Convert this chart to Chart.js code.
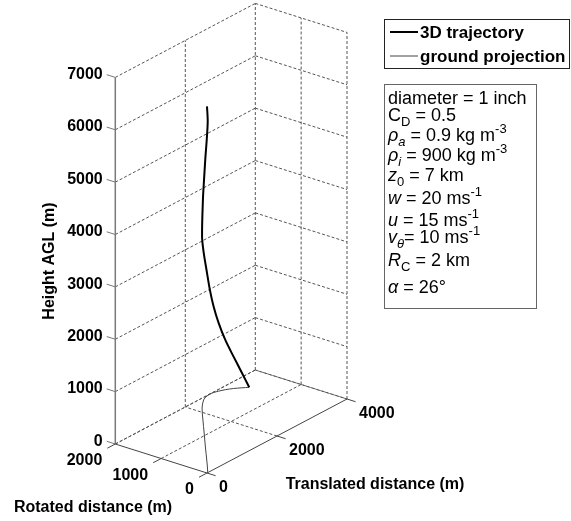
<!DOCTYPE html>
<html><head><meta charset="utf-8">
<script src="https://cdn.jsdelivr.net/npm/chart.js@4/dist/chart.umd.min.js"></script>
<style>html,body{margin:0;padding:0;background:#fff}#wrap{width:571px;height:521px;position:relative}</style>
</head><body><div id="wrap"><canvas id="c"></canvas></div>
<script>
// ---- data (metres) ----
const translated = [0, 40, 437, 862, 1322, 1749, 2145, 2432, 2604, 2700, 2793, 2891, 3013, 3142, 3255, 3350];
const rotated    = [0, 15, 339, 693, 1071, 1424, 1745, 1931, 1988, 1998, 1988, 1954, 1901, 1819, 1722, 1636];
const heightAGL  = [7000, 6700, 6119, 5526, 4876, 4207, 3270, 2830, 2352, 1989, 1641, 1304, 950, 608, 283, 0];
const zTicks = [0, 1000, 2000, 3000, 4000, 5000, 6000, 7000];
const tTicks = [0, 2000, 4000];
const rTicks = [0, 1000, 2000];
const seriesNames = ['3D trajectory', 'ground projection'];
const paramLines = [
  [{t:'diameter = 1 inch'}],
  [{t:'C'},{t:'D',sub:1},{t:' = 0.5'}],
  [{t:'\u03C1',it:1},{t:'a',sub:1,it:1},{t:' = 0.9 kg m'},{t:'-3',sup:1}],
  [{t:'\u03C1',it:1},{t:'i',sub:1,it:1},{t:' = 900 kg m'},{t:'-3',sup:1}],
  [{t:'z',it:1},{t:'0',sub:1},{t:' = 7 km'}],
  [{t:'w',it:1},{t:' = 20 ms'},{t:'-1',sup:1}],
  [{t:'u',it:1},{t:' = 15 ms'},{t:'-1',sup:1}],
  [{t:'v',it:1},{t:'\u03B8',sub:1,it:1},{t:'= 10 ms'},{t:'-1',sup:1}],
  [{t:'R',it:1},{t:'C',sub:1},{t:' = 2 km'}],
  [{t:'\u03B1',it:1},{t:' = 26\u00B0'}]
];

// ---- projection (layout): axis ranges and screen direction of each axis ----
const T_MAX = 4000, R_MAX = 2000, Z_MAX = 7000;
const view = {ox:207, oy:473, tx:0.035, ty:-0.0185, rx:-0.04585, ry:-0.0145, zy:-0.05237};
function proj(t, r, z){
  return {x: view.ox + t*view.tx + r*view.rx, y: view.oy + t*view.ty + r*view.ry + z*view.zy};
}

const FONT = '"Liberation Sans", Arial, sans-serif';

const trajData = translated.map((t,i)=>proj(t, rotated[i], heightAGL[i]));
const groundData = translated.map((t,i)=>proj(t, rotated[i], 0));

const axesPlugin = {
  id:'axes3d',
  beforeDatasetsDraw(chart){
    const ctx = chart.ctx, sx = chart.scales.x, sy = chart.scales.y;
    const P = (t,r,z)=>{const p=proj(t,r,z); return {x:sx.getPixelForValue(p.x), y:sy.getPixelForValue(p.y)};};
    const line=(a,b)=>{ctx.beginPath();ctx.moveTo(a.x,a.y);ctx.lineTo(b.x,b.y);ctx.stroke();};
    ctx.save();
    // dashed grid
    ctx.strokeStyle='#555'; ctx.lineWidth=1; ctx.setLineDash([3,2]);
    zTicks.forEach(z=>{
      line(P(0,R_MAX,z), P(T_MAX,R_MAX,z));
      line(P(T_MAX,R_MAX,z), P(T_MAX,0,z));
    });
    tTicks.forEach(t=>{
      if(t>0) line(P(t,R_MAX,0), P(t,R_MAX,Z_MAX));
      if(t>0) line(P(t,0,0), P(t,R_MAX,0));
    });
    rTicks.forEach(r=>{
      if(r<R_MAX) line(P(T_MAX,r,0), P(T_MAX,r,Z_MAX));
      if(r>0) line(P(0,r,0), P(T_MAX,r,0));
    });
    ctx.setLineDash([]);
    // solid axes
    ctx.strokeStyle='#7a7a7a'; ctx.lineWidth=1.5;
    line(P(0,R_MAX,0), P(0,R_MAX,Z_MAX));
    ctx.strokeStyle='#444'; ctx.lineWidth=1;
    line(P(0,0,0), P(T_MAX,0,0));
    line(P(0,0,0), P(0,R_MAX,0));
    // ticks + labels
    ctx.fillStyle='#000';
    ctx.font='bold 16px '+FONT;
    const TL=9;
    const rl=Math.hypot(view.rx,view.ry), rdx=view.rx/rl, rdy=view.ry/rl;
    ctx.strokeStyle='#777'; ctx.lineWidth=1;
    ctx.textAlign='right'; ctx.textBaseline='middle';
    zTicks.forEach(z=>{
      const a=P(0,R_MAX,z); const b={x:a.x+rdx*TL, y:a.y+rdy*TL};
      line(a,b);
      ctx.fillText(String(z), b.x-4, b.y);
    });
    ctx.strokeStyle='#444';
    ctx.textAlign='left';
    tTicks.forEach(t=>{
      const a=P(t,0,0); const b={x:a.x-rdx*TL, y:a.y-rdy*TL};
      line(a,b);
      ctx.fillText(String(t), a.x+12, a.y+15);
    });
    const tl=Math.hypot(view.tx,view.ty), tdx=view.tx/tl, tdy=view.ty/tl;
    ctx.textAlign='right';
    rTicks.forEach(r=>{
      const a=P(0,r,0); const b={x:a.x-tdx*TL, y:a.y-tdy*TL};
      line(a,b);
      ctx.fillText(String(r), a.x-13, a.y+17);
    });
    // axis titles
    ctx.textAlign='center';
    ctx.fillText('Translated distance (m)', 375, 485);
    ctx.fillText('Rotated distance (m)', 93, 508);
    ctx.save(); ctx.translate(50, 261); ctx.rotate(-Math.PI/2);
    ctx.fillText('Height AGL (m)', 0, 0); ctx.restore();
    ctx.restore();
  },
  afterDraw(chart){
    const ctx=chart.ctx;
    ctx.save();
    // legend
    ctx.fillStyle='#fff'; ctx.fillRect(384.5,19.5,185,49);
    ctx.strokeStyle='#222'; ctx.lineWidth=1; ctx.strokeRect(384.5,19.5,185,49);
    const ds=chart.data.datasets;
    [32,56].forEach((y,i)=>{
      ctx.strokeStyle=ds[i].borderColor; ctx.lineWidth=ds[i].borderWidth;
      ctx.beginPath(); ctx.moveTo(390,y); ctx.lineTo(418,y); ctx.stroke();
      ctx.fillStyle='#000'; ctx.font='bold 17px '+FONT; ctx.textAlign='left'; ctx.textBaseline='middle';
      ctx.fillText(seriesNames[i], 420, y+1);
    });
    // parameter box
    ctx.fillStyle='#fff'; ctx.fillRect(384.5,84.5,152,224);
    ctx.strokeStyle='#666'; ctx.strokeRect(384.5,84.5,152,224);
    ctx.fillStyle='#000'; ctx.textBaseline='alphabetic'; ctx.textAlign='left';
    const ys=[104,121,141,161,181,204,226,243,266,293];
    paramLines.forEach((parts,i)=>{
      let x=388; const y=ys[i];
      parts.forEach(p=>{
        const size = (p.sub||p.sup)?13:18;
        ctx.font=(p.it?'italic ':'')+size+'px '+FONT;
        const dy = p.sub?5:(p.sup?-8:0);
        ctx.fillText(p.t, x, y+dy);
        x += ctx.measureText(p.t).width;
      });
    });
    ctx.restore();
  }
};

new Chart(document.getElementById('c'), {
  type:'scatter',
  data:{datasets:[
    {label:seriesNames[0], data:trajData, showLine:true, borderColor:'#000', borderWidth:2, pointRadius:0, tension:0.3, fill:false},
    {label:seriesNames[1], data:groundData, showLine:true, borderColor:'#444', borderWidth:1, pointRadius:0, tension:0.3, fill:false}
  ]},
  options:{
    responsive:true, maintainAspectRatio:false, animation:false,
    layout:{padding:0},
    scales:{
      x:{type:'linear', min:0, max:571, display:false},
      y:{type:'linear', min:0, max:521, reverse:true, display:false}
    },
    plugins:{legend:{display:false}, tooltip:{enabled:false}}
  },
  plugins:[axesPlugin]
});
</script>
</body></html>
